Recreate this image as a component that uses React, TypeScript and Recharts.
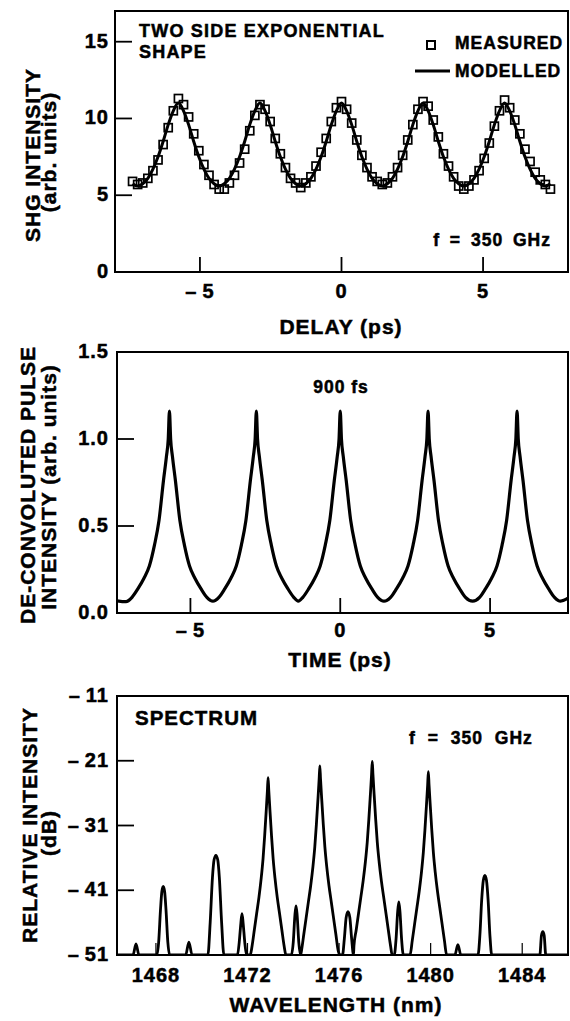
import React from "react";
import { LineChart, Line, XAxis, YAxis, ReferenceArea } from "recharts";

const FONT = "'Liberation Sans', Arial, Helvetica, sans-serif";

// ---- top panel: SHG autocorrelation ----
const delay = [
  -7.38, -7.2, -7.02, -6.84, -6.66, -6.48, -6.3, -6.12, -5.94, -5.76,
  -5.58, -5.4, -5.22, -5.04, -4.86, -4.68, -4.5, -4.32, -4.14, -3.96, -3.78, -3.6, -3.42, -3.24, -3.06, -2.88,
  -2.7, -2.52, -2.34, -2.16, -1.98, -1.8, -1.62, -1.44, -1.26, -1.08, -0.9, -0.72, -0.54, -0.36, -0.18, 0,
  0.18, 0.36, 0.54, 0.72, 0.9, 1.08, 1.26, 1.44, 1.62, 1.8, 1.98, 2.16, 2.34, 2.52, 2.7, 2.88,
  3.06, 3.24, 3.42, 3.6, 3.78, 3.96, 4.14, 4.32, 4.5, 4.68, 4.86, 5.04, 5.22, 5.4, 5.58, 5.76,
  5.94, 6.12, 6.3, 6.48, 6.66, 6.84, 7.02, 7.2, 7.38,
];
const measured = [
  5.9, 5.7, 5.8, 6.1, 6.6, 7.3, 8.3, 9.4, 10.5, 11.3,
  10.9, 10.1, 9.0, 7.9, 7.0, 6.3, 5.7, 5.4, 5.4, 5.8, 6.3, 7.1, 8.0, 9.2, 10.2, 10.9,
  10.6, 9.8, 8.7, 7.7, 6.8, 6.1, 5.8, 5.5, 5.8, 6.2, 6.9, 7.8, 8.7, 9.8, 10.7, 11.1,
  10.6, 9.7, 8.6, 7.6, 6.8, 6.2, 5.9, 5.7, 5.8, 6.2, 6.8, 7.6, 8.6, 9.6, 10.6, 11.1,
  10.8, 9.9, 8.8, 7.7, 6.9, 6.2, 5.6, 5.4, 5.6, 6.0, 6.6, 7.4, 8.4, 9.5, 10.5, 11.2,
  10.7, 9.9, 9.0, 8.0, 7.2, 6.5, 6.0, 5.7, 5.4,
];
const modelled = [
  5.75, 5.6, 5.75, 6.1, 6.7, 7.5, 8.5, 9.6, 10.5, 11.0,
  10.5, 9.6, 8.5, 7.5, 6.7, 6.1, 5.75, 5.6, 5.75, 6.1, 6.7, 7.5, 8.5, 9.6, 10.5, 11.0,
  10.5, 9.6, 8.5, 7.5, 6.7, 6.1, 5.75, 5.6, 5.75, 6.1, 6.7, 7.5, 8.5, 9.6, 10.5, 11.0,
  10.5, 9.6, 8.5, 7.5, 6.7, 6.1, 5.75, 5.6, 5.75, 6.1, 6.7, 7.5, 8.5, 9.6, 10.5, 11.0,
  10.5, 9.6, 8.5, 7.5, 6.7, 6.1, 5.75, 5.6, 5.75, 6.1, 6.7, 7.5, 8.5, 9.6, 10.5, 11.0,
  10.5, 9.6, 8.5, 7.5, 6.7, 6.1, 5.75, 5.6, 5.75,
];
const delayTicks = [-5, 0, 5];
const shgTicks = [0, 5, 10, 15];

// ---- middle panel: de-convoluted pulse ----
const time = [
  -7.45, -7.15, -6.95, -6.75, -6.55, -6.37, -6.2, -6.05, -5.9, -5.8, -5.74,
  -5.7, -5.66, -5.6, -5.5, -5.35, -5.2, -5.03, -4.85, -4.65, -4.45, -4.25,
  -4.05, -3.85, -3.65, -3.47, -3.3, -3.15, -3.0, -2.9, -2.84, -2.8, -2.76, -2.7, -2.6, -2.45, -2.3, -2.13, -1.95, -1.75, -1.55, -1.4,
  -1.25, -1.05, -0.85, -0.67, -0.5, -0.35, -0.2, -0.1, -0.04, 0, 0.04, 0.1, 0.2, 0.35, 0.5, 0.67, 0.85, 1.05, 1.25, 1.46,
  1.68, 1.88, 2.08, 2.26, 2.43, 2.58, 2.73, 2.83, 2.89, 2.93, 2.97, 3.03, 3.13, 3.28, 3.43, 3.6, 3.78, 3.98, 4.18, 4.42,
  4.65, 4.85, 5.05, 5.23, 5.4, 5.55, 5.7, 5.8, 5.86, 5.9, 5.94, 6.0, 6.1, 6.25, 6.4, 6.57, 6.75, 6.95, 7.15, 7.35,
  7.6,
];
const pulse = [
  0.07, 0.065, 0.09, 0.14, 0.2, 0.27, 0.39, 0.53, 0.76, 0.9, 1.0,
  1.16, 1.0, 0.9, 0.76, 0.53, 0.39, 0.27, 0.2, 0.14, 0.09, 0.068,
  0.09, 0.14, 0.2, 0.27, 0.39, 0.53, 0.76, 0.9, 1.0, 1.16, 1.0, 0.9, 0.76, 0.53, 0.39, 0.27, 0.2, 0.14, 0.09, 0.068,
  0.09, 0.14, 0.2, 0.27, 0.39, 0.53, 0.76, 0.9, 1.0, 1.16, 1.0, 0.9, 0.76, 0.53, 0.39, 0.27, 0.2, 0.14, 0.09, 0.068,
  0.09, 0.14, 0.2, 0.27, 0.39, 0.53, 0.76, 0.9, 1.0, 1.16, 1.0, 0.9, 0.76, 0.53, 0.39, 0.27, 0.2, 0.14, 0.09, 0.068,
  0.09, 0.14, 0.2, 0.27, 0.39, 0.53, 0.76, 0.9, 1.0, 1.16, 1.0, 0.9, 0.76, 0.53, 0.39, 0.27, 0.2, 0.14, 0.09, 0.068,
  0.085,
];
const timeTicks = [-5, 0, 5];
const pulseTicks = [0, 0.5, 1, 1.5];

// ---- bottom panel: optical spectrum ----
const wavelength = [
  1466.3,
  1467.0, 1467.13, 1467.26,
  1468.04, 1468.12, 1468.2, 1468.26, 1468.32, 1468.38, 1468.44, 1468.52, 1468.6,
  1469.3, 1469.44, 1469.58,
  1470.27, 1470.37, 1470.47, 1470.54, 1470.62, 1470.7, 1470.77, 1470.87, 1470.97,
  1471.56, 1471.64, 1471.71, 1471.76, 1471.81, 1471.88, 1471.96,
  1472.12, 1472.2, 1472.3, 1472.4, 1472.5, 1472.6, 1472.68, 1472.75, 1472.82, 1472.87, 1472.9,
  1472.93, 1472.98, 1473.05, 1473.12, 1473.2, 1473.3, 1473.4, 1473.5, 1473.6, 1473.68,
  1473.92, 1474.0, 1474.07, 1474.12, 1474.17, 1474.24, 1474.32,
  1474.36, 1474.46, 1474.56, 1474.66, 1474.76, 1474.86, 1474.94, 1475.01, 1475.08, 1475.13, 1475.16,
  1475.19, 1475.24, 1475.31, 1475.38, 1475.46, 1475.56, 1475.66, 1475.76, 1475.86, 1475.96, 1476.04,
  1476.15, 1476.23, 1476.31, 1476.39, 1476.47, 1476.55, 1476.63,
  1476.65, 1476.75, 1476.85, 1476.95, 1477.05, 1477.15, 1477.23, 1477.3, 1477.37, 1477.42, 1477.45,
  1477.48, 1477.53, 1477.6, 1477.67, 1477.75, 1477.85, 1477.95, 1478.05, 1478.15, 1478.25, 1478.32,
  1478.41, 1478.49, 1478.56, 1478.61, 1478.66, 1478.73, 1478.81,
  1479.1, 1479.2, 1479.3, 1479.4, 1479.5, 1479.6, 1479.68, 1479.75, 1479.82, 1479.87, 1479.9,
  1479.93, 1479.98, 1480.05, 1480.12, 1480.2, 1480.3, 1480.4, 1480.5, 1480.6, 1480.7,
  1481.06, 1481.19, 1481.32,
  1482.07, 1482.15, 1482.23, 1482.3, 1482.37, 1482.44, 1482.51, 1482.59, 1482.67,
  1484.77, 1484.84, 1484.9, 1484.96, 1485.03,
  1486,
];
const power = [
  -51,
  -51, -49.3, -51,
  -51, -49, -44, -41.2, -40.4, -41.2, -44, -49, -51,
  -51, -49, -51,
  -51, -46, -39, -36.3, -35.6, -36.3, -39, -46, -51,
  -51, -49, -46.1, -44.6, -46.1, -49, -51,
  -51, -49.6, -47.1, -44.6, -42.1, -39.1, -36.1, -32.6, -28.6, -25.6, -23.6,
  -25.6, -28.6, -32.6, -36.1, -39.1, -42.1, -44.6, -47.1, -49.6, -51,
  -51, -49, -44.9, -43.4, -44.9, -49, -51,
  -50.3, -47.8, -45.3, -42.8, -40.3, -37.3, -34.3, -30.8, -26.8, -23.8, -21.8,
  -23.8, -26.8, -30.8, -34.3, -37.3, -40.3, -42.8, -45.3, -47.8, -50.3, -51,
  -51, -48.5, -45.2, -44.3, -45.2, -48.5, -51,
  -49.6, -47.1, -44.6, -42.1, -39.6, -36.6, -33.6, -30.1, -26.1, -23.1, -21.1,
  -23.1, -26.1, -30.1, -33.6, -36.6, -39.6, -42.1, -44.6, -47.1, -49.6, -51,
  -51, -48.5, -44.3, -42.8, -44.3, -48.5, -51,
  -51, -48.7, -46.2, -43.7, -41.2, -38.2, -35.2, -31.7, -27.7, -24.7, -22.7,
  -24.7, -27.7, -31.7, -35.2, -38.2, -41.2, -43.7, -46.2, -48.7, -51,
  -51, -49.4, -51,
  -51, -48, -42.5, -39.5, -38.7, -39.5, -42.5, -48, -51,
  -51, -48, -47.4, -48, -51,
  -51,
];
const wlTicks = [1468, 1472, 1476, 1480, 1484];
const dbTicks = [-51, -41, -31, -21, -11];

const shgData = delay.map((d, i) => ({ delay: d, measured: measured[i], modelled: modelled[i] }));
const pulseData = time.map((t, i) => ({ time: t, pulse: pulse[i] }));
const specData = wavelength.map((w, i) => ({ wl: w, db: power[i] }));

const axisLine = { stroke: "#000", strokeWidth: 2 };
const signed = (v: number) => (v < 0 ? "\u2013\u2009" + Math.abs(v) : String(v));
const oneDec = (v: number) => v.toFixed(1);

const txt = {
  fontFamily: FONT,
  fontWeight: "bold" as const,
  fill: "#000",
  stroke: "#000",
  strokeWidth: 0.5,
};
const labelProps = { ...txt, fontSize: 20, letterSpacing: 1 };

function xTick(fmt: (v: number) => string, len: number, w: number, dy: number) {
  return (p: any) => (
    <g>
      <line x1={p.x} x2={p.x} y1={p.y} y2={p.y - len} stroke="#000" strokeWidth={w} />
      <text x={p.x} y={p.y + dy} textAnchor="middle" {...labelProps}>
        {fmt(p.payload.value)}
      </text>
    </g>
  );
}

function yTick(fmt: (v: number) => string, len: number, gap: number) {
  return (p: any) => (
    <g>
      <line x1={p.x} x2={p.x + len} y1={p.y} y2={p.y} stroke="#000" strokeWidth={1.8} />
      <text x={p.x - gap} y={p.y + 6} textAnchor="end" {...labelProps}>
        {fmt(p.payload.value)}
      </text>
    </g>
  );
}

const squareDot = (p: any) => (
  <rect
    key={`sq${p.index}`}
    x={p.cx - 4}
    y={p.cy - 4}
    width={8}
    height={8}
    fill="none"
    stroke="#000"
    strokeWidth={1.7}
  />
);

export default function App() {
  return (
    <div style={{ position: "absolute", left: 0, top: 0, width: 570, height: 1021, background: "#fff" }}>
      <div style={{ position: "absolute", left: 0, top: 0 }}>
        <LineChart width={570} height={310} data={shgData} margin={{ top: 11, right: 2, bottom: 0, left: 0 }}>
          <XAxis type="number" dataKey="delay" domain={[-8, 8]} ticks={delayTicks} interval={0} allowDataOverflow
            tickSize={0} tickMargin={0} tickLine={false} axisLine={axisLine} height={38} tick={xTick(signed, 15, 1.8, 26)} />
          <YAxis type="number" domain={[0, 17]} ticks={shgTicks} interval={0} allowDataOverflow
            tickSize={0} tickMargin={0} tickLine={false} axisLine={axisLine} width={115} tick={yTick(String, 17, 6)} />
          <ReferenceArea x1={-8} x2={8} y1={0} y2={17} fill="none" stroke="#000" strokeWidth={2} />
          <Line dataKey="modelled" type="monotone" stroke="#000" strokeWidth={3} dot={false} isAnimationActive={false} />
          <Line dataKey="measured" stroke="none" dot={squareDot} isAnimationActive={false} />
        </LineChart>
      </div>

      <div style={{ position: "absolute", left: 0, top: 320 }}>
        <LineChart width={570} height={330} data={pulseData} margin={{ top: 32, right: 2, bottom: 0, left: 0 }}>
          <XAxis type="number" dataKey="time" domain={[-7.45, 7.6]} ticks={timeTicks} interval={0} allowDataOverflow
            tickSize={0} tickMargin={0} tickLine={false} axisLine={axisLine} height={37} tick={xTick(signed, 15, 1.8, 24)} />
          <YAxis type="number" domain={[0, 1.5]} ticks={pulseTicks} interval={0} allowDataOverflow
            tickSize={0} tickMargin={0} tickLine={false} axisLine={axisLine} width={117} tick={yTick(oneDec, 17, 8)} />
          <ReferenceArea x1={-7.45} x2={7.6} y1={0} y2={1.5} fill="none" stroke="#000" strokeWidth={2} />
          <Line dataKey="pulse" type="monotone" stroke="#000" strokeWidth={3.2} dot={false} isAnimationActive={false} />
        </LineChart>
      </div>

      <div style={{ position: "absolute", left: 0, top: 660 }}>
        <LineChart width={570} height={361} data={specData} margin={{ top: 36, right: 2, bottom: 0, left: 0 }}>
          <XAxis type="number" dataKey="wl" domain={[1466.3, 1486]} ticks={wlTicks} interval={0} allowDataOverflow
            tickSize={0} tickMargin={0} tickLine={false} axisLine={axisLine} height={66} tick={xTick(String, 12, 1.2, 27)} />
          <YAxis type="number" domain={[-51, -11]} ticks={dbTicks} interval={0} allowDataOverflow
            tickSize={0} tickMargin={0} tickLine={false} axisLine={axisLine} width={117} tick={yTick(signed, 17, 8)} />
          <ReferenceArea x1={1466.3} x2={1486} y1={-51} y2={-11} fill="none" stroke="#000" strokeWidth={2} />
          <Line dataKey="db" type="monotone" stroke="#000" strokeWidth={2.8} dot={false} isAnimationActive={false} />
        </LineChart>
      </div>

      <svg width={570} height={1021} style={{ position: "absolute", left: 0, top: 0, pointerEvents: "none" }}>
        {/* top panel */}
        <text {...txt} fontSize={21} letterSpacing={1} textAnchor="middle" transform="translate(40,155) rotate(-90)">SHG INTENSITY</text>
        <text {...txt} fontSize={21} letterSpacing={1} textAnchor="middle" transform="translate(56,152) rotate(-90)">(arb. units)</text>
        <text {...txt} fontSize={21} letterSpacing={1} textAnchor="middle" x={341} y={334}>DELAY (ps)</text>
        <text {...txt} fontSize={18} letterSpacing={1.2} x={139} y={37}>TWO SIDE EXPONENTIAL</text>
        <text {...txt} fontSize={18} letterSpacing={1.2} x={139} y={58}>SHAPE</text>
        <rect x={427} y={41} width={8} height={8} fill="none" stroke="#000" strokeWidth={2} />
        <line x1={415} x2={450} y1={71} y2={71} stroke="#000" strokeWidth={2.8} />
        <text {...txt} fontSize={17.5} letterSpacing={1} x={455} y={49}>MEASURED</text>
        <text {...txt} fontSize={17.5} letterSpacing={1} x={455} y={77}>MODELLED</text>
        <text {...txt} fontSize={17.5} letterSpacing={1} wordSpacing={4} textAnchor="end" x={551} y={246}>f = 350 GHz</text>

        {/* middle panel */}
        <text {...txt} fontSize={21} letterSpacing={1} textAnchor="middle" transform="translate(35,485) rotate(-90)">DE-CONVOLUTED PULSE</text>
        <text {...txt} fontSize={21} letterSpacing={1} textAnchor="middle" transform="translate(56,487) rotate(-90)">INTENSITY (arb. units)</text>
        <text {...txt} fontSize={17.5} letterSpacing={1} textAnchor="middle" x={341} y={393}>900 fs</text>
        <text {...txt} fontSize={21} letterSpacing={1} textAnchor="middle" x={340} y={667}>TIME (ps)</text>

        {/* bottom panel */}
        <text {...txt} fontSize={21} letterSpacing={1} textAnchor="middle" transform="translate(37,825) rotate(-90)">RELATIVE INTENSITY</text>
        <text {...txt} fontSize={21} letterSpacing={1} textAnchor="middle" transform="translate(56,833) rotate(-90)">(dB)</text>
        <text {...txt} fontSize={20.5} letterSpacing={1} x={135} y={725}>SPECTRUM</text>
        <text {...txt} fontSize={17.5} letterSpacing={1} wordSpacing={6} x={409} y={744}>f = 350 GHz</text>
        <text {...txt} fontSize={21} letterSpacing={1} textAnchor="middle" x={336} y={1012}>WAVELENGTH (nm)</text>
      </svg>
    </div>
  );
}
